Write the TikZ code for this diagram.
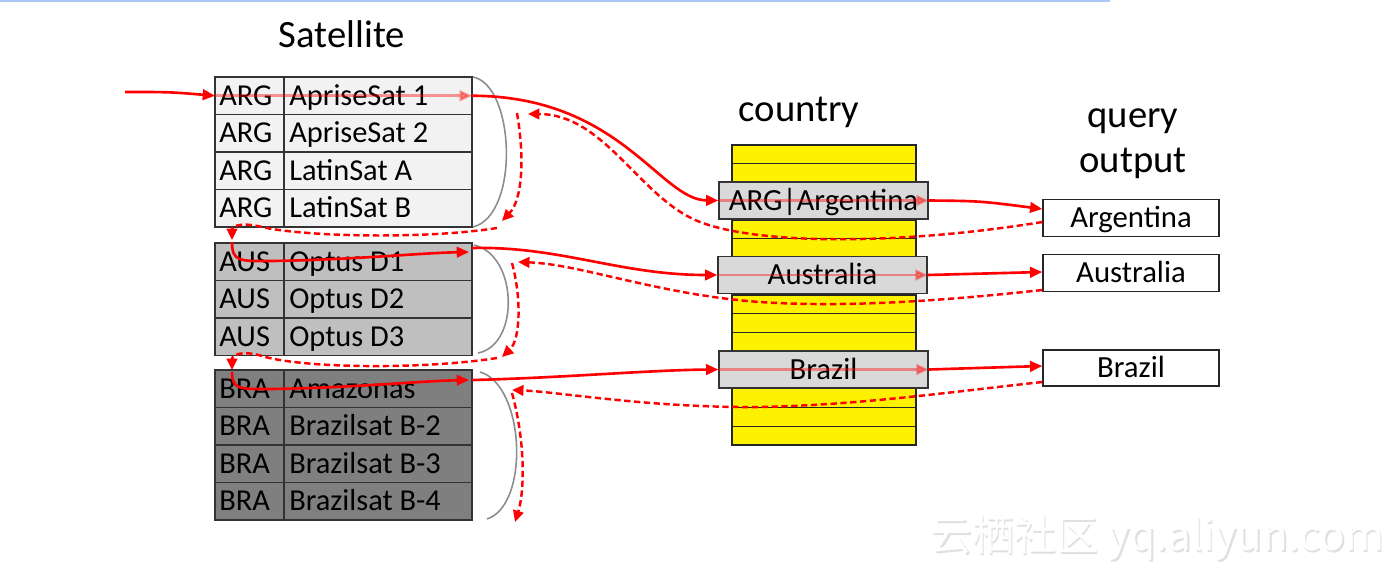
\documentclass[tikz,border=0pt]{standalone}
\usepackage{fontspec}
\setmainfont{Carlito}
\newfontfamily\cjkfont{Noto Sans CJK SC}
\usetikzlibrary{arrows.meta,calc}
\definecolor{argfill}{HTML}{F2F2F2}
\definecolor{ausfill}{HTML}{BFBFBF}
\definecolor{brafill}{HTML}{7F7F7F}
\definecolor{cfill}{HTML}{D9D9D9}
\definecolor{rred}{HTML}{FF0000}
\definecolor{topblue}{HTML}{A9C8F2}
\definecolor{brk}{HTML}{8C8C8C}
\tikzset{
 rowbox/.style={draw=black!80, line width=0.8pt, minimum width=5.14cm, minimum height=0.75cm, inner sep=0pt, outer sep=0pt},
 celltxt/.style={font=\fontsize{17.3}{20}\selectfont, anchor=base west, inner sep=0pt, text=black},
 titletxt/.style={font=\fontsize{22}{25.6}\selectfont, anchor=base, inner sep=0pt},
 cbox/.style={draw=black!80, fill=cfill, line width=0.8pt, minimum width=4.18cm, minimum height=0.74cm, inner sep=0pt, font=\fontsize{17.5}{20}\selectfont, text height=11pt, text depth=0pt},
 obox/.style={draw=black!85, fill=white, line width=0.8pt, minimum width=3.52cm, minimum height=0.74cm, inner sep=0pt, font=\fontsize{17.5}{20}\selectfont, text height=11pt, text depth=0pt},
 flow/.style={rred, line width=1.5pt, -{Triangle[length=7pt,width=6pt]}},
 back/.style={rred, line width=1.4pt, dash pattern=on 3.6pt off 2pt, -{Triangle[length=6.5pt,width=6pt]}},
 faint/.style={rred, opacity=0.4, line width=1.5pt, -{Triangle[length=7pt,width=6pt]}},
 bracearc/.style={brk, line width=0.9pt},
}
\newcommand\satrow[5]{%
 \node[rowbox, fill=#3] (#1) at (343.5,#2) {};
 \draw[black!80, line width=0.8pt] (284,#2) +(0,-18.75) -- +(0,18.75);
 \node[celltxt] (#1a) at (219,#2+9.5) {#4};
 \node[celltxt] (#1b) at (289,#2+9.5) {#5};
}
\begin{document}
\begin{tikzpicture}[x=0.02cm,y=-0.02cm]
\useasboundingbox (0,0) rectangle (1400,565);
\fill[white] (0,0) rectangle (1400,565);
\draw[topblue, line width=1.5pt] (0,0.8) -- (1110,0.8);

% watermark
\node[font=\cjkfont\fontsize{24}{28}\selectfont, text=black!12, anchor=base west, inner sep=0pt] (wm1) at (931,552) {云栖社区 yq.aliyun.com};
\node[font=\cjkfont\fontsize{24}{28}\selectfont, text=white, anchor=base west, inner sep=0pt] (wm2) at (929.5,550.5) {云栖社区 yq.aliyun.com};

% titles
\node[titletxt] (tsat) at (342,47) {Satellite};
\node[titletxt] (tcty) at (799,121) {country};
\node[titletxt, align=center] (tqo) at (1133,172) {query\\output};

% satellite table
\satrow{r1}{95.75}{argfill}{ARG}{ApriseSat 1}
\satrow{r2}{133.25}{argfill}{ARG}{ApriseSat 2}
\satrow{r3}{170.75}{argfill}{ARG}{LatinSat A}
\satrow{r4}{208.25}{argfill}{ARG}{LatinSat B}
\satrow{r5}{261.75}{ausfill}{AUS}{Optus D1}
\satrow{r6}{299.25}{ausfill}{AUS}{Optus D2}
\satrow{r7}{336.75}{ausfill}{AUS}{Optus D3}
\satrow{r8}{388.75}{brafill}{BRA}{Amazonas}
\satrow{r9}{426.25}{brafill}{BRA}{Brazilsat B-2}
\satrow{r10}{463.75}{brafill}{BRA}{Brazilsat B-3}
\satrow{r11}{501.25}{brafill}{BRA}{Brazilsat B-4}

% country column
\foreach \i in {0,...,15}
  \draw[fill=yellow, draw=black!85, line width=0.7pt] (732,145+18.75*\i) rectangle ++(184,18.75);
\node[cbox] (cA) at (823.5,200.5) {ARG|Argentina};
\node[cbox] (cB) at (822.5,275) {Australia};
\node[cbox] (cC) at (823.5,369.5) {Brazil};

% output
\node[obox] (oA) at (1131,218) {Argentina};
\node[obox] (oB) at (1131,273) {Australia};
\node[obox, minimum height=0.72cm] (oC) at (1131,368) {Brazil};

% brackets
\draw[bracearc] (473,77) .. controls (515,85) and (520,215) .. (473,227);
\draw[bracearc] (474,245) .. controls (518,255) and (520,345) .. (478,353);
\draw[bracearc] (480,372) .. controls (525,385) and (530,505) .. (487,519);

% named free ends
\coordinate (in) at (125,92);
\coordinate (dA1) at (528,114);
\coordinate (dA2) at (517,113);
\coordinate (dA3) at (502,221);
\coordinate (dA4) at (497,228);
\coordinate (dA5) at (232,240);
\coordinate (sB0) at (232,242);
\coordinate (sB1) at (469,252);
\coordinate (sB2) at (472,248);
\coordinate (dB1) at (518,262);
\coordinate (dB2) at (512,263);
\coordinate (dB3) at (502,357);
\coordinate (dB4) at (497,358);
\coordinate (dB5) at (232,370);
\coordinate (sC0) at (232,372);
\coordinate (sC1) at (469,380);
\coordinate (sC2) at (472,380);
\coordinate (dC1) at (512,390);
\coordinate (dC2) at (512,393);
\coordinate (dC3) at (515,522);

% ARG flow
\draw[flow] (in) .. controls (170,92) .. (r1.west);
\draw[faint] (r1.west) -- (r1.east);
\draw[flow] (r1.east) .. controls (620,96) and (660,200) .. (cA.west);
\draw[faint] (cA.west) -- (cA.east);
\draw[flow] (cA.east) .. controls (980,201) .. ($(oA.west)+(0,-9)$);
\draw[back] ($(oA.west)+(0,4)$) .. controls (900,245) and (760,245) .. (700,222) .. controls (640,199) and (605,114) .. (dA1);
\draw[back] (dA2) .. controls (525,160) and (522,200) .. (dA3);
\draw[back] (dA4) .. controls (420,240) and (300,236) .. (262,227) .. controls (242,222) and (232,226) .. (dA5);

% AUS flow
\draw[flow] (sB0) .. controls (232,262) and (240,261) .. (270,261) .. controls (350,260) and (420,253) .. (sB1);
\draw[flow] (sB2) .. controls (560,246) and (620,275) .. (cB.west);
\draw[faint] (cB.west) -- (cB.east);
\draw[flow] (cB.east) -- ($(oB.west)+(0,-1)$);
\draw[back] ($(oB.west)+(0,17)$) .. controls (950,300) and (850,308) .. (760,302) .. controls (660,295) and (580,264) .. (dB1);
\draw[back] (dB2) .. controls (522,300) and (520,340) .. (dB3);
\draw[back] (dB4) .. controls (420,370) and (300,368) .. (262,356) .. controls (242,350) and (232,355) .. (dB5);

% BRA flow
\draw[flow] (sC0) .. controls (232,390) and (240,389) .. (270,389) .. controls (350,388) and (420,381) .. (sC1);
\draw[flow] (sC2) .. controls (560,378) and (650,370) .. (cC.west);
\draw[faint] (cC.west) -- (cC.east);
\draw[flow] (cC.east) -- ($(oC.west)+(0,-2)$);
\draw[back] ($(oC.west)+(0,14)$) .. controls (950,392) and (860,405) .. (760,407) .. controls (650,408) and (560,392) .. (dC1);
\draw[back] (dC2) .. controls (525,440) and (525,490) .. (dC3);
\end{tikzpicture}
\end{document}
